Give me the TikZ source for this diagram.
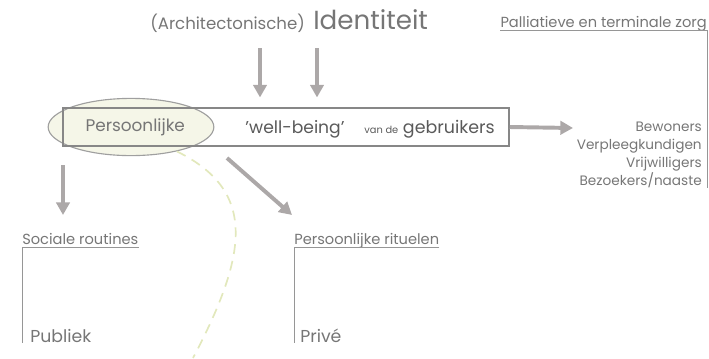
\documentclass[tikz,border=0pt]{standalone}
\usepackage{fontspec}
\setmainfont{Poppins}
\usepackage{tikz}
\usetikzlibrary{positioning,calc,arrows.meta,shapes.geometric}
\definecolor{TxtGray}{RGB}{118,118,118}
\definecolor{DarkGray}{RGB}{90,90,90}
\definecolor{ArrowGray}{RGB}{172,168,168}
\definecolor{BoxGray}{RGB}{135,135,135}
\definecolor{RuleGray}{RGB}{150,150,150}
\definecolor{PaleGreen}{RGB}{245,246,232}
\definecolor{DashGreen}{RGB}{226,232,188}
\tikzset{
    fatarrow/.style={draw=ArrowGray, line width=2.8pt, -{Triangle[length=9pt,width=9.5pt]}},
    header/.style={inner sep=0pt, text depth=0.25em, text=TxtGray, font=\fontsize{10.4}{12}\selectfont},
    rule/.style={draw=RuleGray, line width=0.6pt}
}
\begin{document}
\begin{tikzpicture}[
        x=0.025cm, y=-0.025cm,
        % Style voor de tekst
        plain/.style={inner sep=0pt, text=TxtGray},
        bigword/.style={plain, font=\fontsize{12.3}{14}\selectfont},
        % Style voor de ellips en het kader
        persell/.style={
            ellipse,
            draw=BoxGray!80,
            fill=PaleGreen,
            line width=0.8pt,
            minimum width=3.85cm,
            minimum height=1.43cm,
            text=TxtGray,
            font=\fontsize{12}{14}\selectfont
        },
        wbbox/.style={
            draw=BoxGray,
            line width=1pt,
            minimum width=11.15cm,
            minimum height=0.95cm
        }
    ]
        \useasboundingbox (0,0) rectangle (709,358);

        % --- TITEL BOVENAAN ---
        \node[plain, anchor=base west, font=\fontsize{11.8}{13}\selectfont] (arch) at (150,29) {(Architectonische)};
        \node[plain, anchor=base west, font=\fontsize{18.6}{20}\selectfont] (ident) at (313,29) {Identiteit};

        % --- ELLIPS EN KADER ---
        \node[persell] (pers) at (131,127) {\hspace{6pt}Persoonlijke};
        \node[wbbox] (wb) at (286,127) {};
        \node[plain, anchor=base, text=DarkGray, font=\fontsize{12.2}{14}\selectfont] (well) at (295,133) {'well-being'};
        \node[plain, anchor=base east, text=DarkGray, font=\fontsize{12.4}{14}\selectfont] (gebr) at (495,133) {{\fontsize{7}{8}\selectfont van de} gebruikers};

        % Gestippelde grens
        \coordinate (dashend) at (193,358);
        \draw[DashGreen, line width=1.2pt, dash pattern=on 7pt off 5pt]
            (pers.-28) .. controls (255,190) and (250,250) .. (dashend);

        % --- PIJLEN ---
        \coordinate (id1) at (260,48);
        \coordinate (id2) at (317,48);
        \draw[fatarrow, shorten >=7pt] (id1) -- (id1 |- wb.north);
        \draw[fatarrow, shorten >=7pt] (id2) -- (id2 |- wb.north);
        \coordinate (zorgtip) at (573,128);
        \draw[fatarrow] (wb.east) -- (zorgtip);
        \coordinate (socstart) at (63,165);
        \coordinate (soctip) at (63,215);
        \draw[fatarrow] (socstart) -- (soctip);
        \coordinate (ritstart) at (227,158);
        \coordinate (rittip) at (292,215);
        \draw[fatarrow] (ritstart) -- (rittip);

        % --- PALLIATIEVE ZORG ---
        \node[header, anchor=base east] (pal) at (707,27) {Palliatieve en terminale zorg};
        \draw[rule] (pal.south west) -- (pal.south east) -- (pal.south east |- 0,188);
        \foreach \t/\yy [count=\k] in {Bewoners/131, Verpleegkundigen/149, Vrijwilligers/167, {Bezoekers/naaste}/185}
            \node[plain, anchor=base east, font=\fontsize{9.7}{12}\selectfont] (grp\k) at (702,\yy) {\t};

        % --- SOCIALE ROUTINES / PERSOONLIJKE RITUELEN ---
        \node[header, anchor=base west] (soc) at (22,244) {Sociale routines};
        \draw[rule] (soc.south east) -- (soc.south west) -- (soc.south west |- 0,343);
        \node[bigword, anchor=base west] (pub) at (30,342) {Publiek};

        \node[header, anchor=base west] (rit) at (294,244) {Persoonlijke rituelen};
        \draw[rule] (rit.south east) -- (rit.south west) -- (rit.south west |- 0,343);
        \node[bigword, anchor=base west] (priv) at (300,342) {Privé};

    \end{tikzpicture}
\end{document}
